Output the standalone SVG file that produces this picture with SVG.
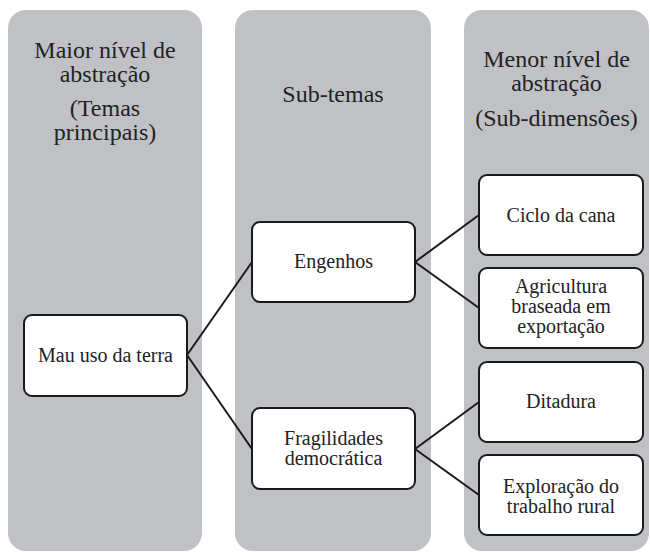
<svg xmlns="http://www.w3.org/2000/svg" width="650" height="552" viewBox="0 0 650 552" font-family="'Liberation Serif', 'Times New Roman', serif">
<style>
.col{fill:#c0c1c5}
.box{fill:#fff;stroke:#1a1a1a;stroke-width:2}
.h{font-family:'Liberation Serif','Times New Roman',serif;font-size:24px;fill:#222;text-anchor:middle}
.t{font-family:'Liberation Serif','Times New Roman',serif;font-size:20px;fill:#222;text-anchor:middle}
.c{stroke:#1a1a1a;stroke-width:2;fill:none}
</style>
<rect width="650" height="552" fill="#fff"/>
<g id="col1"><rect class="col" x="8" y="10" width="194" height="541" rx="18"/>
<text class="h" x="105" y="58">Maior nível de</text><text class="h" x="105" y="82">abstração</text>
<text class="h" x="105" y="116">(Temas</text><text class="h" x="105" y="140">principais)</text></g>
<g id="col2"><rect class="col" x="235" y="10" width="196" height="541" rx="18"/>
<text class="h" x="333" y="102">Sub-temas</text></g>
<g id="col3"><rect class="col" x="464" y="10" width="185" height="541" rx="18"/>
<text class="h" x="556.5" y="67">Menor nível de</text><text class="h" x="556.5" y="91">abstração</text>
<text class="h" x="556.5" y="126">(Sub-dimensões)</text></g>
<g id="connectors">
<path class="c" d="M187 355 L252 262 M187 355 L252 449 M415 262 L479 215 M415 262 L479 308 M415 449 L479 402 M415 449 L479 495"/>
</g>
<g id="mau"><rect class="box" x="24" y="315" width="163" height="81" rx="8"/><text class="t" x="105.5" y="362">Mau uso da terra</text></g>
<g id="engenhos"><rect class="box" x="252" y="222" width="163" height="80" rx="8"/><text class="t" x="333.5" y="268">Engenhos</text></g>
<g id="fragilidades"><rect class="box" x="252" y="408" width="163" height="81" rx="8"/><text class="t" x="333.5" y="445">Fragilidades</text><text class="t" x="333.5" y="465">democrática</text></g>
<g id="ciclo"><rect class="box" x="479" y="175" width="164" height="80" rx="8"/><text class="t" x="561" y="222">Ciclo da cana</text></g>
<g id="agricultura"><rect class="box" x="479" y="268" width="164" height="80" rx="8"/><text class="t" x="561" y="293">Agricultura</text><text class="t" x="561" y="313">braseada em</text><text class="t" x="561" y="333">exportação</text></g>
<g id="ditadura"><rect class="box" x="479" y="362" width="164" height="80" rx="8"/><text class="t" x="561" y="408">Ditadura</text></g>
<g id="exploracao"><rect class="box" x="479" y="455" width="164" height="80" rx="8"/><text class="t" x="561" y="493">Exploração do</text><text class="t" x="561" y="513">trabalho rural</text></g>
</svg>
